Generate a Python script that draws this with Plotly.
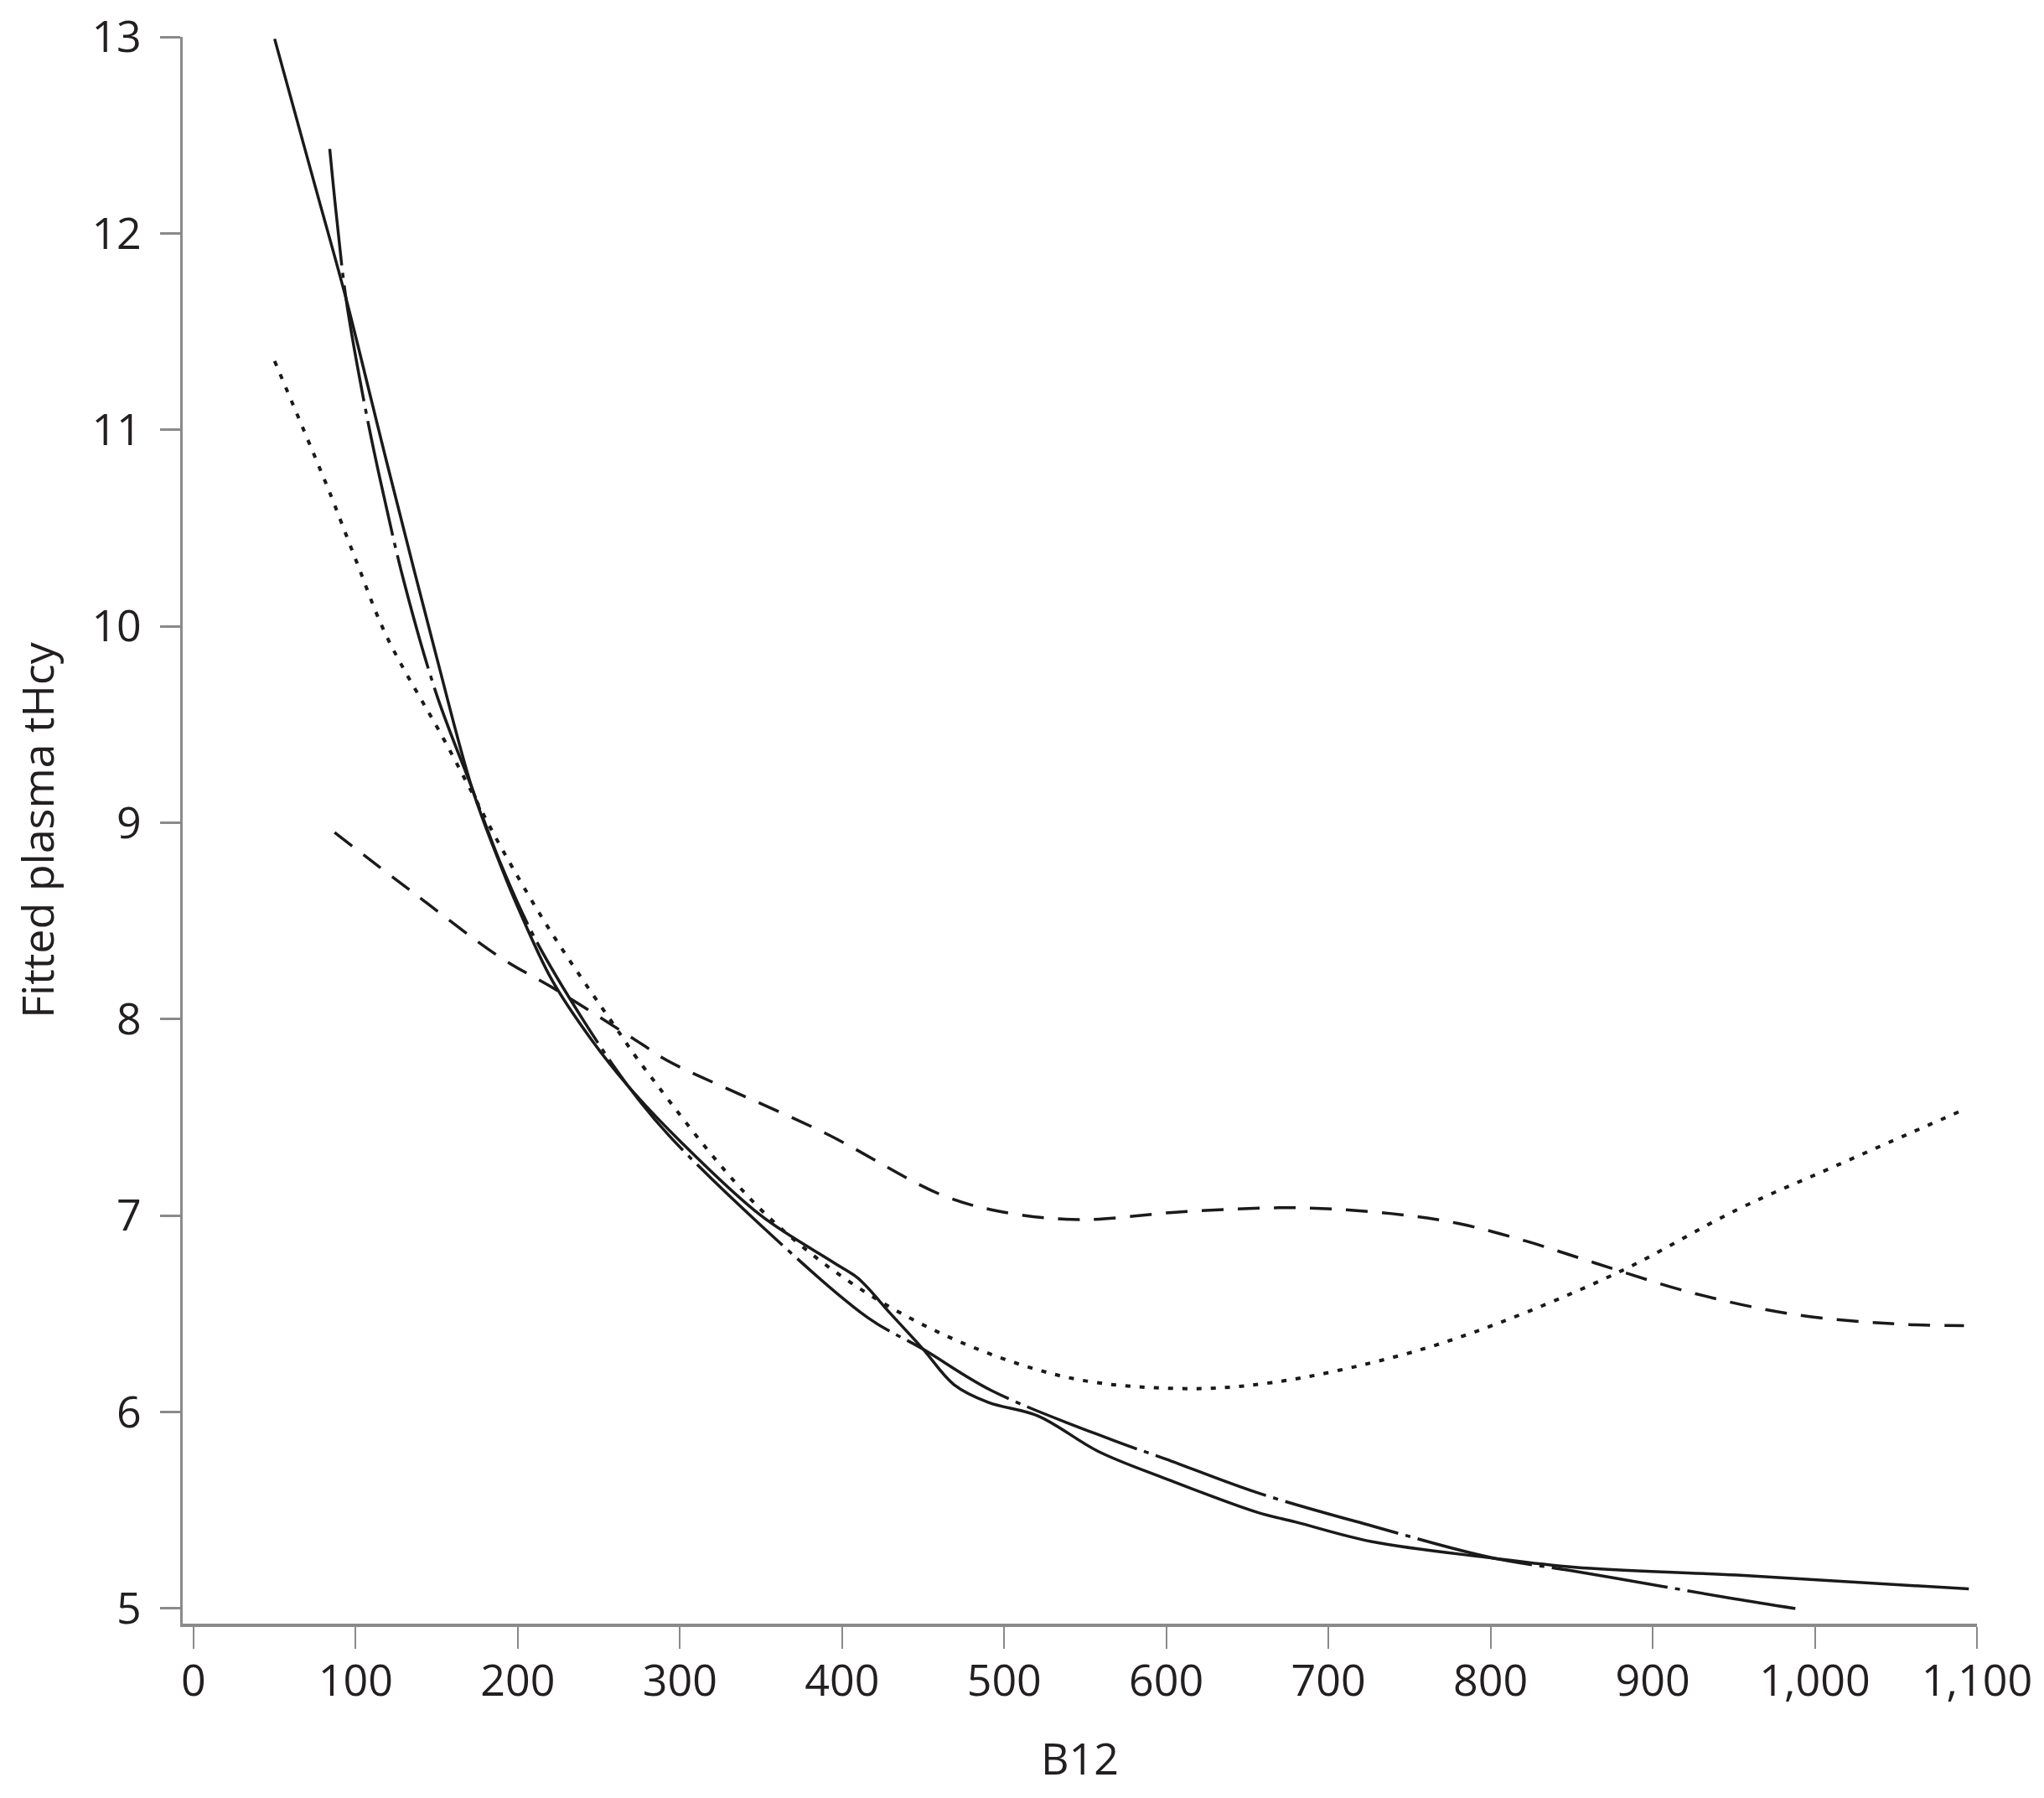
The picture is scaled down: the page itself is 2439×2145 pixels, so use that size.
import plotly.graph_objects as go

# ---- data ----
solid_x = [50, 75, 94, 110, 119, 150, 172, 190, 200, 221, 245, 268, 300, 350, 395, 410, 430, 450, 469, 490, 521, 558, 600, 656, 680, 727, 798, 852, 952, 1095]
solid_y = [12.99, 12.24, 11.67, 11.14, 10.84, 9.84, 9.17, 8.77, 8.57, 8.2, 7.9, 7.66, 7.38, 7.0, 6.76, 6.68, 6.5, 6.32, 6.14, 6.05, 5.98, 5.80, 5.66, 5.49, 5.44, 5.34, 5.26, 5.21, 5.17, 5.10]

dashdot_x = [84, 88, 94, 105, 115, 130, 150, 172, 190, 210, 240, 268, 293, 350, 416, 450, 492, 566, 600, 656, 727, 800, 852, 908, 950, 988]
dashdot_y = [12.43, 12.1, 11.67, 11.15, 10.75, 10.22, 9.65, 9.17, 8.78, 8.42, 8.0, 7.66, 7.41, 6.95, 6.48, 6.32, 6.11, 5.86, 5.76, 5.59, 5.42, 5.26, 5.19, 5.11, 5.05, 5.0]

dotted_x = [50, 75, 84, 100, 119, 154, 172, 190, 220, 261, 279, 355, 437, 532, 606, 665, 745, 804, 881, 952, 1012, 1092]
dotted_y = [11.35, 10.86, 10.68, 10.34, 9.95, 9.43, 9.15, 8.87, 8.45, 7.95, 7.74, 6.99, 6.5, 6.19, 6.12, 6.15, 6.29, 6.45, 6.72, 7.03, 7.25, 7.54]

dashed_x = [87, 134.5, 190, 221.5, 277, 292, 389.5, 463, 505, 548, 611, 680, 739, 780, 822, 864, 923, 985, 1047, 1092]
dashed_y = [8.95, 8.65, 8.31, 8.16, 7.87, 7.79, 7.42, 7.10, 7.01, 6.98, 7.02, 7.04, 7.01, 6.96, 6.87, 6.76, 6.61, 6.50, 6.45, 6.44]

x_tickvals = [0, 100, 200, 300, 400, 500, 600, 700, 800, 900, 1000, 1100]
x_ticktext = ["0", "100", "200", "300", "400", "500", "600", "700", "800", "900", "1,000", "1,100"]
y_tickvals = [5, 6, 7, 8, 9, 10, 11, 12, 13]

x_title = "B12"
y_title = "Fitted plasma tHcy"

# ---- figure ----
LINE = "#1a1a1a"
AX = "#8a8a8a"
FONT = "Open Sans"

fig = go.Figure()
fig.add_trace(go.Scatter(x=dashed_x, y=dashed_y, mode="lines",
                         line=dict(color=LINE, width=3.5, dash="26px,17px", shape="spline"),
                         showlegend=False))
fig.add_trace(go.Scatter(x=dotted_x, y=dotted_y, mode="lines",
                         line=dict(color=LINE, width=4, dash="6px,11px", shape="spline"),
                         showlegend=False))
fig.add_trace(go.Scatter(x=dashdot_x, y=dashdot_y, mode="lines",
                         line=dict(color=LINE, width=3.5, dash="140px,9px,6px,9px", shape="spline"),
                         showlegend=False))
fig.add_trace(go.Scatter(x=solid_x, y=solid_y, mode="lines",
                         line=dict(color=LINE, width=3.5, shape="spline"),
                         showlegend=False))

# page body has an 8px margin, so the figure is sized to fit inside the window
fig.update_layout(
    width=2423, height=2129,
    margin=dict(l=210, r=72, t=36, b=200),
    paper_bgcolor="white", plot_bgcolor="white",
    font=dict(family=FONT, size=52, color="#231f20"),
)
fig.update_xaxes(
    range=[-6.7, 1100], showgrid=False, zeroline=False, automargin=False,
    showline=True, linecolor=AX, linewidth=4,
    ticks="outside", ticklen=26, tickwidth=2, tickcolor=AX,
    tickvals=x_tickvals, ticktext=x_ticktext,
    ticklabelstandoff=-6, ticklabeloverflow="allow",
    title=dict(text=x_title, standoff=44, font=dict(size=52)),
)
fig.update_yaxes(
    range=[4.923, 13], showgrid=False, zeroline=False, automargin=False,
    showline=True, linecolor=AX, linewidth=2.5,
    ticks="outside", ticklen=24, tickwidth=2.5, tickcolor=AX,
    tickvals=y_tickvals, ticklabelstandoff=12, ticklabeloverflow="allow",
    title=dict(text=y_title, standoff=40, font=dict(size=52)),
)

fig.write_html("out.html")
